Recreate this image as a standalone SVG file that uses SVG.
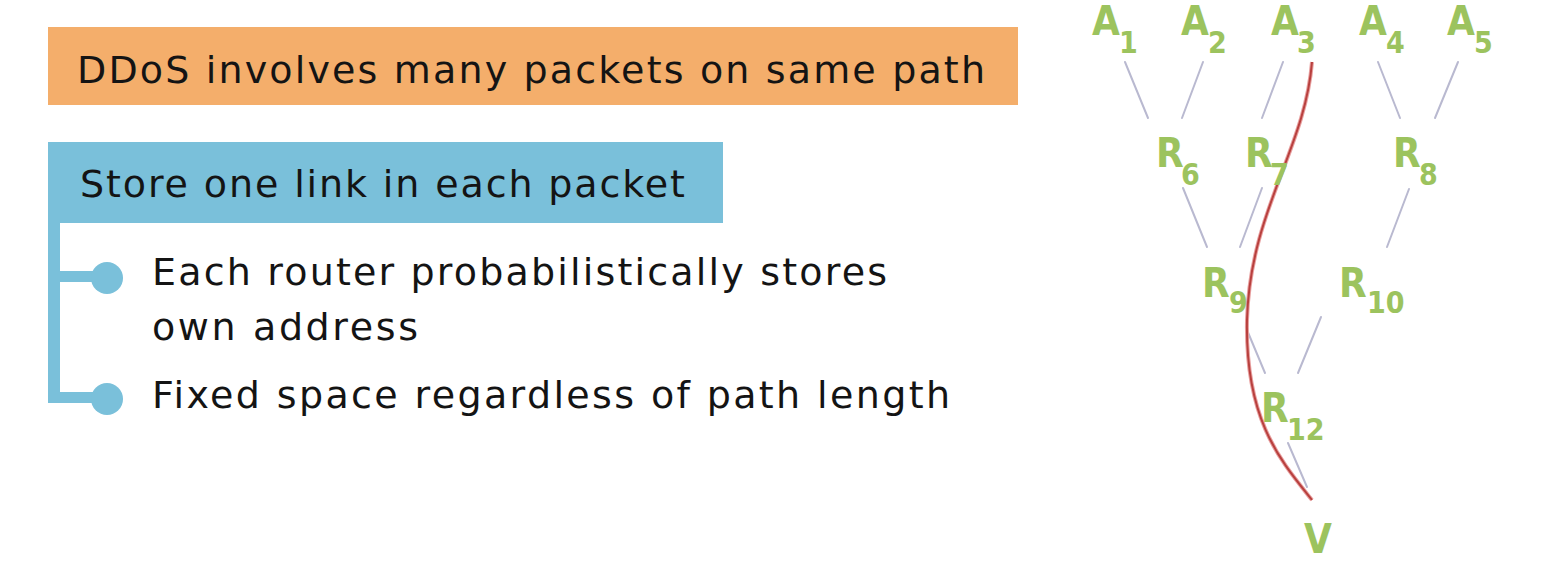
<svg xmlns="http://www.w3.org/2000/svg" width="1562" height="584" viewBox="0 0 1562 584">
<style>
.t{font-family:"DejaVu Sans","Liberation Sans",sans-serif;font-size:38px;fill:#141414;}
.g{font-family:"DejaVu Sans Condensed","DejaVu Sans",sans-serif;font-weight:bold;fill:#9cc35e;}
.m{font-size:40px;}
.s{font-size:30px;}
.e{stroke:#b9b9d0;stroke-width:2;fill:none;stroke-linecap:round;}
.blue{fill:#7ac0da;}
</style>
<rect width="1562" height="584" fill="#ffffff"/>
<g id="header-orange">
<rect x="48" y="27" width="970" height="78" fill="#f4ae6b"/>
<text class="t" x="77" y="83" textLength="908" lengthAdjust="spacing">DDoS involves many packets on same path</text>
</g>
<g id="header-blue">
<rect class="blue" x="48" y="142" width="675" height="81"/>
<text class="t" x="80" y="197" textLength="605" lengthAdjust="spacing">Store one link in each packet</text>
</g>
<g id="bracket">
<rect class="blue" x="48" y="222" width="12" height="181"/>
<rect class="blue" x="48" y="271" width="58" height="11"/>
<rect class="blue" x="48" y="392" width="58" height="11"/>
<circle class="blue" cx="107" cy="278" r="16"/>
<circle class="blue" cx="107" cy="399" r="16"/>
</g>
<g id="bullet1">
<text class="t" x="152" y="285" textLength="735" lengthAdjust="spacing">Each router probabilistically stores</text>
<text class="t" x="152" y="340" textLength="266" lengthAdjust="spacing">own address</text>
</g>
<g id="bullet2">
<text class="t" x="152" y="408" textLength="798" lengthAdjust="spacing">Fixed space regardless of path length</text>
</g>
<g id="connectors">
<line class="e" x1="1125" y1="62" x2="1148" y2="118"/>
<line class="e" x1="1203" y1="62" x2="1182" y2="118"/>
<line class="e" x1="1283" y1="62" x2="1262" y2="118"/>
<line class="e" x1="1378" y1="62" x2="1400" y2="118"/>
<line class="e" x1="1458" y1="62" x2="1435" y2="118"/>
<line class="e" x1="1183" y1="188" x2="1207" y2="247"/>
<line class="e" x1="1262" y1="188" x2="1240" y2="247"/>
<line class="e" x1="1409" y1="189" x2="1387" y2="247"/>
<line class="e" x1="1247" y1="330" x2="1265" y2="373"/>
<line class="e" x1="1321" y1="317" x2="1298" y2="373"/>
<line class="e" x1="1288" y1="443" x2="1307" y2="487"/>
<path d="M1312,62 C1305,150 1250,210 1247,320 C1245,420 1280,460 1312,500" fill="none" stroke="#e8a0a0" stroke-width="4"/>
<path d="M1312,62 C1305,150 1250,210 1247,320 C1245,420 1280,460 1312,500" fill="none" stroke="#b8403e" stroke-width="2"/>
</g>
<g id="A1"><text class="g m" x="1092" y="35">A</text><text class="g s" x="1119" y="53">1</text></g>
<g id="A2"><text class="g m" x="1181" y="35">A</text><text class="g s" x="1208" y="53">2</text></g>
<g id="A3"><text class="g m" x="1271" y="35">A</text><text class="g s" x="1297" y="53">3</text></g>
<g id="A4"><text class="g m" x="1359" y="35">A</text><text class="g s" x="1386" y="53">4</text></g>
<g id="A5"><text class="g m" x="1447" y="35">A</text><text class="g s" x="1474" y="53">5</text></g>
<g id="R6"><text class="g m" x="1156" y="167">R</text><text class="g s" x="1181" y="185">6</text></g>
<g id="R7"><text class="g m" x="1245" y="167">R</text><text class="g s" x="1270" y="185">7</text></g>
<g id="R8"><text class="g m" x="1393" y="167">R</text><text class="g s" x="1419" y="185">8</text></g>
<g id="R9"><text class="g m" x="1202" y="297">R</text><text class="g s" x="1229" y="313">9</text></g>
<g id="R10"><text class="g m" x="1339" y="297">R</text><text class="g s" x="1367" y="313">10</text></g>
<g id="R12"><text class="g m" x="1261" y="422">R</text><text class="g s" x="1287" y="440">12</text></g>
<g id="V"><text class="g m" x="1304" y="553">V</text></g>
</svg>
